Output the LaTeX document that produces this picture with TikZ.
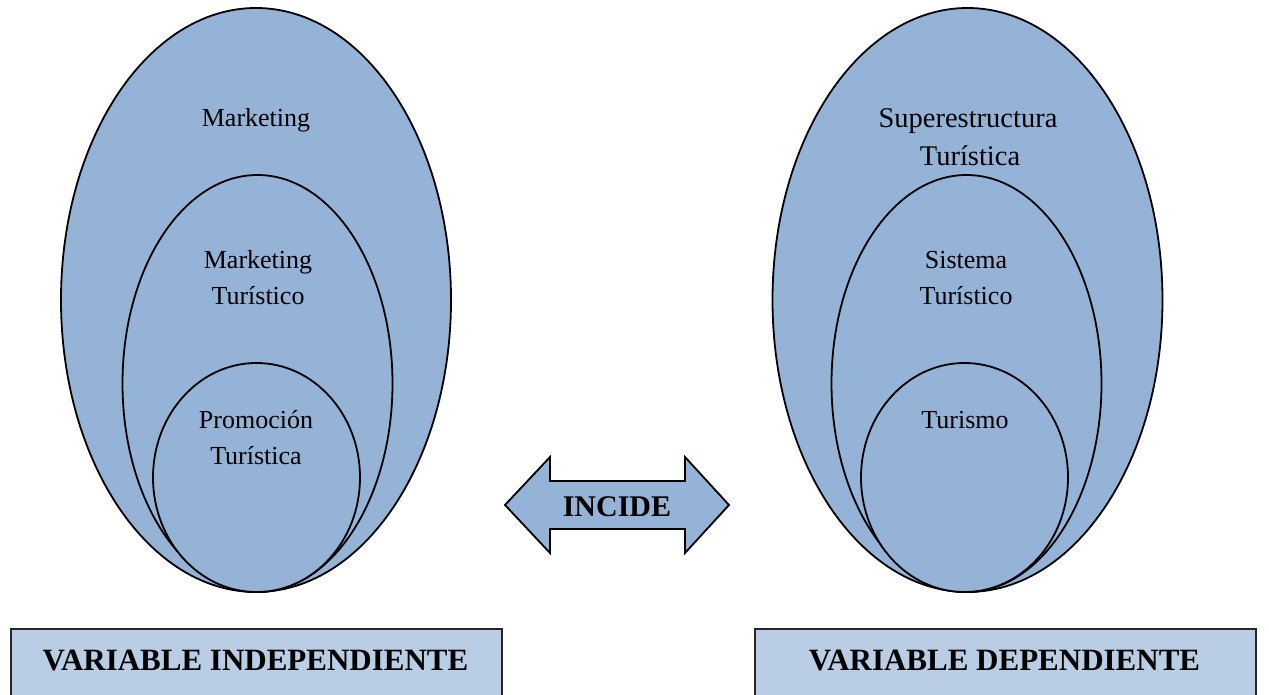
\documentclass[tikz,border=0pt]{standalone}
\usepackage{fontspec}
\setmainfont{Liberation Serif}
\usetikzlibrary{shapes.geometric}
\definecolor{bleu}{HTML}{95B3D7}
\definecolor{bleuclair}{HTML}{B9CDE5}
\begin{document}
\begin{tikzpicture}[x=1pt,y=-1pt,
    ovale/.style={ellipse,draw,fill=bleu,line width=1.8pt,inner sep=0pt},
    texte/.style={font=\fontsize{26}{37}\selectfont,anchor=base},
    boite/.style={draw=black!85,fill=bleuclair,line width=1.8pt,anchor=north west,minimum height=90pt,inner sep=0pt},
    titre/.style={font=\fontsize{31}{37}\selectfont\bfseries,anchor=base}]
    \clip (0,0) rectangle (1269,695);
    \fill[white] (0,0) rectangle (1269,695);
    % variable independante
    \node[ovale,minimum width=390pt,minimum height=584pt] (mkt) at (256,300) {};
    \node[ovale,minimum width=270pt,minimum height=417pt] (mktt) at (257.5,383.5) {};
    \node[ovale,minimum width=207pt,minimum height=229pt] (promo) at (256.5,477.5) {};
    \node[texte] (lmkt) at (256,127) {Marketing};
    \node[texte] (lmkta) at (258,268) {Marketing};
    \node[texte] (lmktb) at (258,304) {Turístico};
    \node[texte] (lpromoa) at (256,428) {Promoción};
    \node[texte] (lpromob) at (256,464) {Turística};
    % variable dependante
    \node[ovale,minimum width=390pt,minimum height=584pt] (sup) at (967.5,300) {};
    \node[ovale,minimum width=270pt,minimum height=417pt] (sys) at (966.5,383.5) {};
    \node[ovale,minimum width=207pt,minimum height=229pt] (tur) at (964.5,477.5) {};
    \node[texte,font=\fontsize{28.5}{38}\selectfont] (lsupa) at (968,128) {Superestructura};
    \node[texte,font=\fontsize{28.5}{38}\selectfont] (lsupb) at (970,166) {Turística};
    \node[texte] (lsysa) at (966,268) {Sistema};
    \node[texte] (lsysb) at (966,304) {Turístico};
    \node[texte] (ltur) at (965,428) {Turismo};
    % fleche double
    \draw[fill=bleu,line width=1.8pt,line join=miter] (505,505) -- (550,457) -- (550,481) -- (685,481)
        -- (685,457) -- (729,505) -- (685,553) -- (685,529) -- (550,529) -- (550,553) -- cycle;
    \node[titre,font=\fontsize{30}{36}\selectfont\bfseries] (incide) at (617,516) {INCIDE};
    % boites du bas
    \node[boite,minimum width=491pt] (bindep) at (10,628) {};
    \node[boite,minimum width=501pt] (bdep) at (754,628) {};
    \node[titre] (tindep) at (255.5,670) {VARIABLE INDEPENDIENTE};
    \node[titre] (tdep) at (1004.5,670) {VARIABLE DEPENDIENTE};
\end{tikzpicture}
\end{document}
